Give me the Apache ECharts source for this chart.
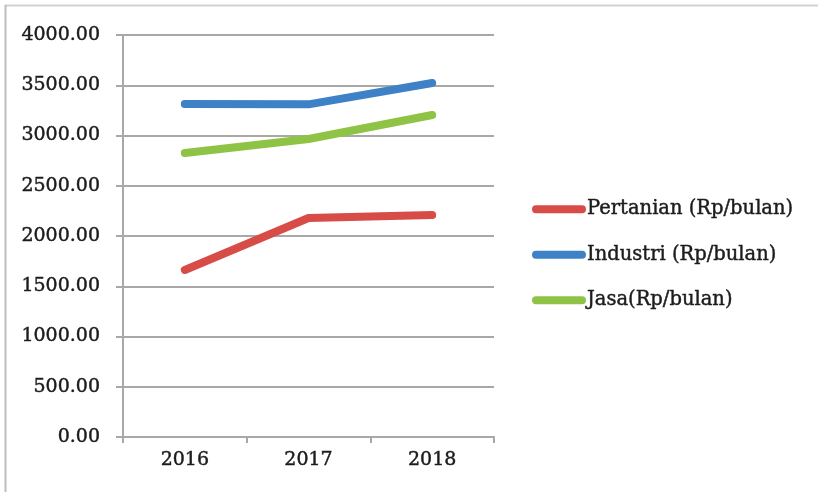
<!DOCTYPE html>
<html>
<head>
<meta charset="utf-8">
<script src="https://cdn.jsdelivr.net/npm/echarts@6/dist/echarts.min.js"></script>
<style>
  html, body { margin: 0; padding: 0; background: #fff; }
  #chart { width: 818px; height: 492px; }
</style>
</head>
<body>
<div id="chart"></div>
<script>
// Average monthly wage by sector, 2016-2018
const years = ['2016', '2017', '2018'];
const pertanian = [1662, 2179, 2209];
const industri = [3313, 3310, 3522];
const jasa = [2826, 2965, 3204];
const seriesNames = ['Pertanian (Rp/bulan)', 'Industri (Rp/bulan)', 'Jasa(Rp/bulan)'];
const seriesColors = ['#d84c48', '#3e81c7', '#8fc346'];

const FONT = 'DejaVu Serif';
const TEXT = '#1c1c1c';
// slightly heavier strokes for the serif labels
const heavy = { textBorderColor: TEXT, textBorderWidth: 0.45 };

const chart = echarts.init(document.getElementById('chart'), null, { renderer: 'canvas' });

function lineSeries(name, data, color) {
  return {
    name: name,
    type: 'line',
    data: data,
    showSymbol: false,
    symbol: 'none',
    lineStyle: { width: 8, color: color, cap: 'round', join: 'round' },
    itemStyle: { color: color },
    emphasis: { disabled: true },
    silent: true
  };
}

chart.setOption({
  animation: false,
  backgroundColor: '#ffffff',
  graphic: [
    { type: 'line', shape: { x1: 5, y1: 5.5, x2: 818, y2: 5.5 }, style: { stroke: '#d2d2d2', lineWidth: 2 } },
    { type: 'line', shape: { x1: 5.5, y1: 5, x2: 5.5, y2: 492 }, style: { stroke: '#bdbdbd', lineWidth: 2 } }
  ],
  grid: { left: 123, right: 324, top: 35, bottom: 55, containLabel: false },
  legend: {
    orient: 'vertical',
    left: 527,
    top: 194,
    itemWidth: 54,
    itemHeight: 8,
    itemGap: 25,
    icon: 'path://M4,0 L50,0 A4,4 0 0 1 50,8 L4,8 A4,4 0 0 1 4,0 Z',
    textStyle: Object.assign({ fontFamily: FONT, fontSize: 19.5, color: TEXT, lineHeight: 20, padding: [0, 0, 0, -4] }, heavy),
    data: seriesNames
  },
  xAxis: {
    type: 'category',
    data: years,
    boundaryGap: true,
    axisLine: { lineStyle: { color: '#a8a8a8', width: 2 } },
    axisTick: { show: true, length: 6, lineStyle: { color: '#a8a8a8', width: 2 } },
    axisLabel: Object.assign({ fontFamily: FONT, fontSize: 19, color: TEXT, margin: 14 }, heavy)
  },
  yAxis: {
    type: 'value',
    min: 0,
    max: 4000,
    interval: 500,
    axisLine: { show: true, lineStyle: { color: '#a8a8a8', width: 2 } },
    axisTick: { show: true, length: 7, lineStyle: { color: '#a8a8a8', width: 2 } },
    splitLine: { lineStyle: { color: '#a8a8a8', width: 2 } },
    axisLabel: Object.assign({
      fontFamily: FONT, fontSize: 19, color: TEXT, margin: 23,
      formatter: v => v.toFixed(2)
    }, heavy)
  },
  series: [
    lineSeries(seriesNames[0], pertanian, seriesColors[0]),
    lineSeries(seriesNames[1], industri, seriesColors[1]),
    lineSeries(seriesNames[2], jasa, seriesColors[2])
  ]
});
</script>
</body>
</html>
